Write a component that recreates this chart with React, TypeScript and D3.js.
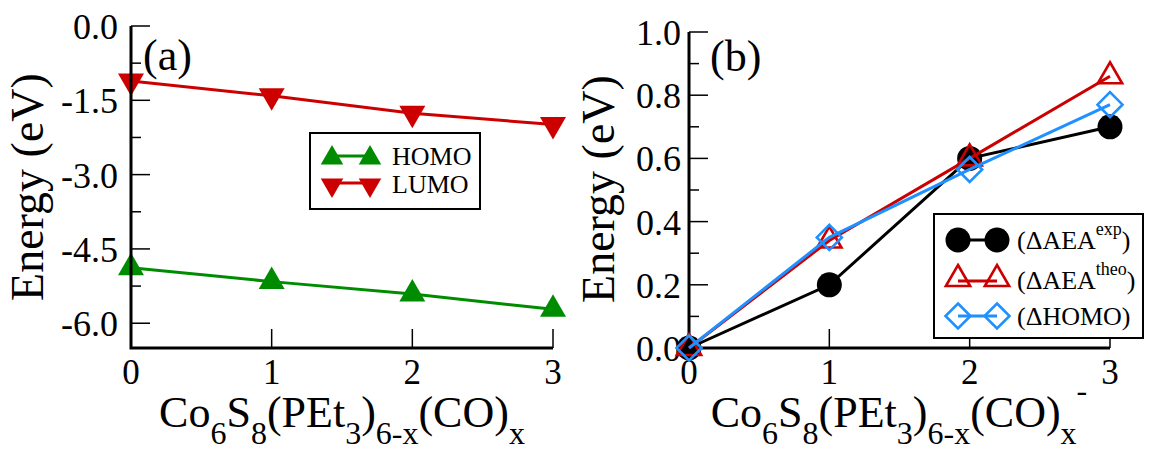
import React from 'react';
import * as d3 from 'd3';

// ---------- data ----------
const xValues = [0, 1, 2, 3];
const xTickLabels = ['0', '1', '2', '3'];
const homo = [-4.88, -5.16, -5.41, -5.72];
const lumo = [-1.11, -1.41, -1.76, -1.99];
const leftYTicks = [0, -1.5, -3, -4.5, -6];
const leftYMinor = [-0.75, -2.25, -3.75, -5.25];

const aeaExp = [0, 0.2, 0.6, 0.7];
const aeaTheo = [0, 0.34, 0.6, 0.86];
const dHomo = [0, 0.35, 0.565, 0.77];
const rightYTicks = [0, 0.2, 0.4, 0.6, 0.8, 1.0];
const rightYMinor = [0.1, 0.3, 0.5, 0.7, 0.9];

const GREEN = '#008c00';
const RED = '#cc0000';
const BLUE = '#1e90ff';
const FONT = '"Liberation Serif", "Times New Roman", serif';

// ---------- helpers ----------
const triPath = (r: number, up: boolean) => {
  const s = Math.sqrt(3) / 2;
  const p = up
    ? [[0, -r], [r * s, r / 2], [-r * s, r / 2]]
    : [[0, r], [r * s, -r / 2], [-r * s, -r / 2]];
  return 'M' + p.map((q) => q.join(',')).join('L') + 'Z';
};
const diamondPath = (r: number) => `M0,${-r}L${r},0L0,${r}L${-r},0Z`;

type Marker = 'triUp' | 'triDown' | 'circle' | 'triOpen' | 'diamond';

function MarkerShape({ kind, x, y, color, r }: { kind: Marker; x: number; y: number; color: string; r: number }) {
  const t = `translate(${x},${y})`;
  if (kind === 'triUp') return <path transform={t} d={triPath(r, true)} fill={color} />;
  if (kind === 'triDown') return <path transform={t} d={triPath(r, false)} fill={color} />;
  if (kind === 'circle') return <circle cx={x} cy={y} r={r} fill={color} />;
  if (kind === 'triOpen') return <path transform={t} d={triPath(r, true)} fill="none" stroke={color} strokeWidth={2.6} />;
  return <path transform={t} d={diamondPath(r)} fill="none" stroke={color} strokeWidth={2.6} />;
}

function Series({ xs, ys, x, y, color, kind, r }: any) {
  const line = d3.line<number>().x((_, i) => x(xs[i])).y((d) => y(d));
  return (
    <g>
      <path d={line(ys) || ''} fill="none" stroke={color} strokeWidth={3} />
      {ys.map((v: number, i: number) => (
        <MarkerShape key={i} kind={kind} x={x(xs[i])} y={y(v)} color={color} r={r} />
      ))}
    </g>
  );
}

function Axes({ x, y, yTicks, yMinor, fmt, labelRight }: any) {
  const [x0, x1] = x.range();
  const [yb, yt] = y.range();
  return (
    <g>
      {yTicks.map((t: number) => (
        <g key={'y' + t}>
          <line x1={x0} x2={x0 + 19} y1={y(t)} y2={y(t)} stroke="#000" strokeWidth={1.5} />
          <text x={labelRight} y={y(t)} dy="0.36em" textAnchor="end" fontSize={36} fontFamily={FONT}>
            {fmt(t)}
          </text>
        </g>
      ))}
      {yMinor.map((t: number) => (
        <line key={'m' + t} x1={x0} x2={x0 + 10} y1={y(t)} y2={y(t)} stroke="#000" strokeWidth={1.5} />
      ))}
      {xValues.map((t, i) => (
        <g key={'x' + t}>
          <line x1={x(t)} x2={x(t)} y1={yb} y2={yb - 19} stroke="#000" strokeWidth={1.5} />
          <text x={x(t)} y={yb + 36} textAnchor="middle" fontSize={35} fontFamily={FONT}>
            {xTickLabels[i]}
          </text>
        </g>
      ))}
      <path d={`M${x0},${yt}V${yb}H${x1}`} fill="none" stroke="#000" strokeWidth={3} />
    </g>
  );
}

function XTitle({ cx, y, minus }: { cx: number; y: number; minus?: boolean }) {
  const sub = 17;
  return (
    <text x={cx} y={y} textAnchor="middle" fontSize={44} fontFamily={FONT}>
      <tspan>Co</tspan>
      <tspan fontSize={32} dy={sub}>6</tspan>
      <tspan dy={-sub}>S</tspan>
      <tspan fontSize={32} dy={sub}>8</tspan>
      <tspan dy={-sub}>(PEt</tspan>
      <tspan fontSize={32} dy={sub}>3</tspan>
      <tspan dy={-sub}>)</tspan>
      <tspan fontSize={32} dy={sub}>6-x</tspan>
      <tspan dy={-sub}>(CO)</tspan>
      <tspan fontSize={32} dy={sub}>x</tspan>
      {minus ? <tspan fontSize={32} dy={-sub - 26}>-</tspan> : null}
    </text>
  );
}

export default function App() {
  // left panel
  const xL = d3.scaleLinear().domain([0, 3]).range([131, 553]);
  const yL = d3.scaleLinear().domain([-6.5, 0]).range([348, 26]);
  // right panel
  const xR = d3.scaleLinear().domain([0, 3]).range([689, 1110]);
  const yR = d3.scaleLinear().domain([0, 1]).range([348, 32]);

  const fmt1 = (v: number) => v.toFixed(1);

  return (
    <svg width={1151} height={450} style={{ position: 'absolute', left: 0, top: 0, background: '#fff' }}>
      <rect width={1151} height={450} fill="#fff" />

      {/* ---------- panel (a) ---------- */}
      <Series xs={xValues} ys={lumo} x={xL} y={yL} color={RED} kind="triDown" r={15} />
      <Series xs={xValues} ys={homo} x={xL} y={yL} color={GREEN} kind="triUp" r={15} />
      <Axes x={xL} y={yL} yTicks={leftYTicks} yMinor={leftYMinor} fmt={fmt1} labelRight={118} />
      <text x={143} y={70} fontSize={44} fontFamily={FONT}>(a)</text>
      <text transform="translate(43,187) rotate(-90)" textAnchor="middle" fontSize={46} fontFamily={FONT}>
        Energy (eV)
      </text>
      <XTitle cx={342} y={427} />

      {/* legend (a) */}
      <g>
        <rect x={310} y={133} width={170} height={76} fill="#fff" stroke="#000" strokeWidth={2} />
        <line x1={332} x2={370} y1={156} y2={156} stroke={GREEN} strokeWidth={3} />
        <MarkerShape kind="triUp" x={332} y={158} color={GREEN} r={13} />
        <MarkerShape kind="triUp" x={370} y={158} color={GREEN} r={13} />
        <text x={392} y={165} fontSize={26} fontFamily={FONT}>HOMO</text>
        <line x1={332} x2={370} y1={183} y2={183} stroke={RED} strokeWidth={3} />
        <MarkerShape kind="triDown" x={332} y={185} color={RED} r={13} />
        <MarkerShape kind="triDown" x={370} y={185} color={RED} r={13} />
        <text x={392} y={193} fontSize={26} fontFamily={FONT}>LUMO</text>
      </g>

      {/* ---------- panel (b) ---------- */}
      <Axes x={xR} y={yR} yTicks={rightYTicks} yMinor={rightYMinor} fmt={fmt1} labelRight={681} />
      <Series xs={xValues} ys={aeaExp} x={xR} y={yR} color="#000" kind="circle" r={12.5} />
      <Series xs={xValues} ys={aeaTheo} x={xR} y={yR} color={RED} kind="triOpen" r={14} />
      <Series xs={xValues} ys={dHomo} x={xR} y={yR} color={BLUE} kind="diamond" r={12.5} />
      <text x={710} y={71} fontSize={44} fontFamily={FONT}>(b)</text>
      <text transform="translate(614,189) rotate(-90)" textAnchor="middle" fontSize={46} fontFamily={FONT}>
        Energy (eV)
      </text>
      <XTitle cx={899} y={427} minus />

      {/* legend (b) */}
      <g>
        <rect x={934} y={214} width={209} height={124} fill="#fff" stroke="#000" strokeWidth={2} />
        <line x1={958} x2={997} y1={240} y2={240} stroke="#000" strokeWidth={3} />
        <MarkerShape kind="circle" x={958} y={240} color="#000" r={12.5} />
        <MarkerShape kind="circle" x={997} y={240} color="#000" r={12.5} />
        <text x={1017} y={249} fontSize={26} fontFamily={FONT}>
          (ΔAEA<tspan fontSize={18} dy={-14}>exp</tspan><tspan dy={14}>)</tspan>
        </text>
        <line x1={958} x2={997} y1={281} y2={281} stroke={RED} strokeWidth={3} />
        <MarkerShape kind="triOpen" x={958} y={279} color={RED} r={14} />
        <MarkerShape kind="triOpen" x={997} y={279} color={RED} r={14} />
        <text x={1017} y={289} fontSize={26} fontFamily={FONT}>
          (ΔAEA<tspan fontSize={18} dy={-14}>theo</tspan><tspan dy={14}>)</tspan>
        </text>
        <line x1={958} x2={997} y1={316} y2={316} stroke={BLUE} strokeWidth={3} />
        <MarkerShape kind="diamond" x={958} y={316} color={BLUE} r={12.5} />
        <MarkerShape kind="diamond" x={997} y={316} color={BLUE} r={12.5} />
        <text x={1017} y={325} fontSize={26} fontFamily={FONT}>(ΔHOMO)</text>
      </g>
    </svg>
  );
}
